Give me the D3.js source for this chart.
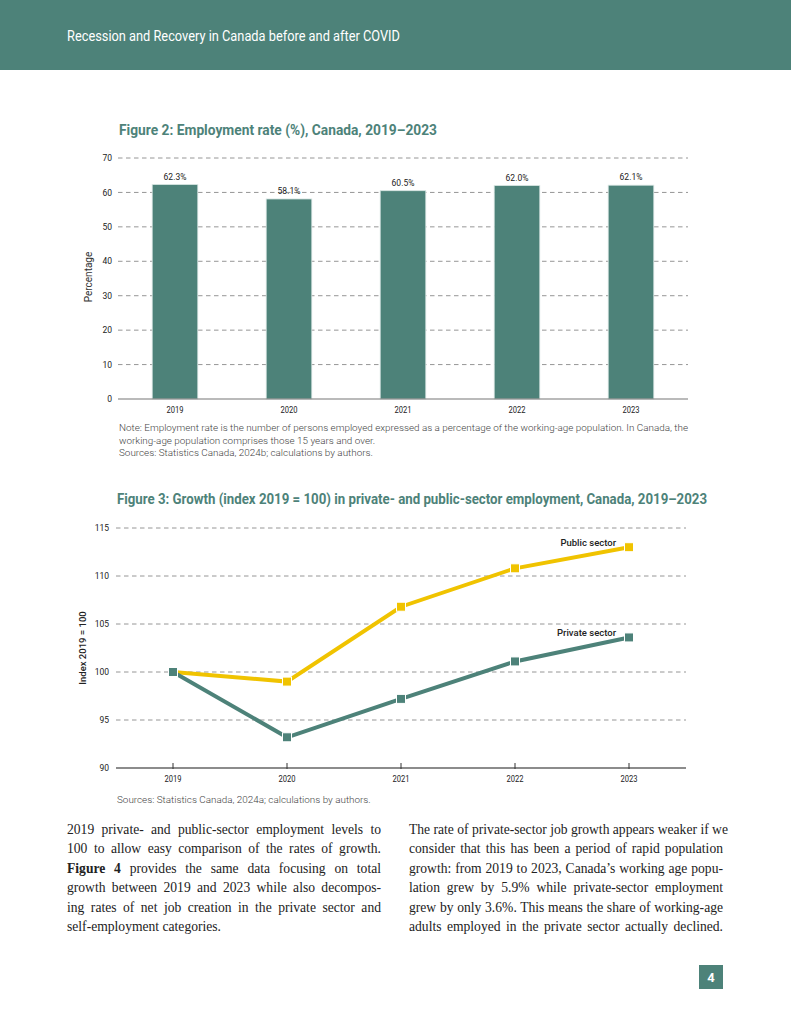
<!DOCTYPE html>
<html>
<head>
<meta charset="utf-8">
<script src="https://cdn.jsdelivr.net/npm/d3@7"></script>
<style>
  html, body { margin: 0; padding: 0; background: #fff; }
  body { width: 791px; height: 1024px; position: relative; overflow: hidden; }
  svg { position: absolute; left: 0; top: 0; }
  .line { position: absolute; font-family: "Liberation Serif", serif; font-size: 13.6px; color: #222;
          white-space: nowrap; text-align: justify; text-align-last: justify; line-height: 19px; }
  .line.last { text-align-last: left; }
</style>
</head>
<body>
<svg id="page" width="791" height="1024"></svg>
<div id="body"></div>
<script>
// ---------- data ----------
const years = ["2019", "2020", "2021", "2022", "2023"];
const employmentRate = [62.3, 58.1, 60.5, 62.0, 62.1];
const rateLabels = ["62.3%", "58.1%", "60.5%", "62.0%", "62.1%"];
const rateTicks = [0, 10, 20, 30, 40, 50, 60, 70];
const publicSector = [100, 99.0, 106.8, 110.8, 113.0];
const privateSector = [100, 93.2, 97.2, 101.1, 103.6];
const indexTicks = [90, 95, 100, 105, 110, 115];

const teal = "#4d8279";
const yellow = "#f0c300";
const svg = d3.select("#page");

// ---------- header ----------
svg.append("rect").attr("x", 0).attr("y", 0).attr("width", 791).attr("height", 70).attr("fill", teal);
svg.append("text").attr("x", 67).attr("y", 41).attr("fill", "#fff")
  .attr("font-family", "Roboto").attr("font-size", 14)
  .attr("textLength", 333).attr("lengthAdjust", "spacingAndGlyphs")
  .text("Recession and Recovery in Canada before and after COVID");

// ---------- Figure 2 ----------
svg.append("text").attr("x", 119).attr("y", 135).attr("fill", teal)
  .attr("font-family", "Roboto").attr("font-weight", 700).attr("font-size", 15)
  .attr("textLength", 318).attr("lengthAdjust", "spacingAndGlyphs")
  .text("Figure 2: Employment rate (%), Canada, 2019\u20132023");

const x1 = d3.scaleBand().domain(years).range([118, 688]).paddingInner(0.6).paddingOuter(0.3);
const y1 = d3.scaleLinear().domain([0, 70]).range([399, 158]);

const g1 = svg.append("g");
g1.selectAll("line.grid").data(rateTicks.filter(d => d > 0)).join("line")
  .attr("x1", 118).attr("x2", 688).attr("y1", d => y1(d)).attr("y2", d => y1(d))
  .attr("stroke", "#8a8a8a").attr("stroke-width", 0.9).attr("stroke-dasharray", "4.5,3.5");
g1.selectAll("text.ytick").data(rateTicks).join("text")
  .attr("x", 112).attr("y", d => y1(d) + 3.2).attr("text-anchor", "end")
  .attr("font-family", "Roboto").attr("font-size", 8.5).attr("fill", "#222")
  .text(d => d);
g1.selectAll("rect.bar").data(years).join("rect")
  .attr("x", d => x1(d)).attr("width", x1.bandwidth())
  .attr("y", (d, i) => y1(employmentRate[i])).attr("height", (d, i) => y1(0) - y1(employmentRate[i]))
  .attr("fill", teal).attr("stroke", "#d9e6e3").attr("stroke-width", 0.8);
g1.selectAll("text.val").data(years).join("text")
  .attr("x", d => x1(d) + x1.bandwidth() / 2).attr("y", (d, i) => y1(employmentRate[i]) - 5)
  .attr("text-anchor", "middle").attr("font-family", "Roboto").attr("font-size", 8.5).attr("fill", "#222")
  .text((d, i) => rateLabels[i]);
g1.append("line").attr("x1", 118).attr("x2", 688).attr("y1", y1(0)).attr("y2", y1(0))
  .attr("stroke", "#777").attr("stroke-width", 1.2);
g1.selectAll("text.xtick").data(years).join("text")
  .attr("x", d => x1(d) + x1.bandwidth() / 2).attr("y", 413)
  .attr("text-anchor", "middle").attr("font-family", "Roboto").attr("font-size", 8.5).attr("fill", "#222")
  .attr("textLength", 17).attr("lengthAdjust", "spacingAndGlyphs")
  .text(d => d);
svg.append("text").attr("transform", "translate(92,277) rotate(-90)")
  .attr("text-anchor", "middle").attr("font-family", "Roboto").attr("font-size", 10).attr("fill", "#333")
  .text("Percentage");

const noteLines = [
  "Note: Employment rate is the number of persons employed expressed as a percentage of the working-age population. In Canada, the",
  "working-age population comprises those 15 years and over.",
  "Sources: Statistics Canada, 2024b; calculations by authors."
];
const notes = svg.selectAll("text.note").data(noteLines).join("text")
  .attr("x", 119).attr("y", (d, i) => 431 + i * 12.6)
  .attr("font-family", "Roboto").attr("font-weight", 300).attr("font-size", 8.6).attr("fill", "#444")
  .text(d => d);
const natural0 = notes.nodes()[0].getComputedTextLength();
const squeeze = 569 / natural0;
notes.each(function () {
  const w = this.getComputedTextLength();
  d3.select(this).attr("textLength", w * squeeze).attr("lengthAdjust", "spacingAndGlyphs");
});

// ---------- Figure 3 ----------
svg.append("text").attr("x", 117).attr("y", 504).attr("fill", teal)
  .attr("font-family", "Roboto").attr("font-weight", 700).attr("font-size", 15)
  .attr("textLength", 590).attr("lengthAdjust", "spacingAndGlyphs")
  .text("Figure 3: Growth (index 2019 = 100) in private- and public-sector employment, Canada, 2019\u20132023");

const x2 = d3.scalePoint().domain(years).range([116, 686]).padding(0.5);
const y2 = d3.scaleLinear().domain([90, 115]).range([768, 528]);

const g2 = svg.append("g");
g2.selectAll("line.grid").data(indexTicks.filter(d => d > 90)).join("line")
  .attr("x1", 116).attr("x2", 686).attr("y1", d => y2(d)).attr("y2", d => y2(d))
  .attr("stroke", "#8a8a8a").attr("stroke-width", 0.9).attr("stroke-dasharray", "4.5,3.5");
g2.selectAll("text.ytick").data(indexTicks).join("text")
  .attr("x", 109).attr("y", d => y2(d) + 3.2).attr("text-anchor", "end")
  .attr("font-family", "Roboto").attr("font-size", 8.5).attr("fill", "#222")
  .text(d => d);
g2.append("line").attr("x1", 116).attr("x2", 686).attr("y1", y2(90)).attr("y2", y2(90))
  .attr("stroke", "#666").attr("stroke-width", 1.4);
g2.selectAll("line.tick").data(years).join("line")
  .attr("x1", d => x2(d)).attr("x2", d => x2(d)).attr("y1", y2(90) - 5).attr("y2", y2(90) + 1)
  .attr("stroke", "#333").attr("stroke-width", 1);
g2.selectAll("text.xtick").data(years).join("text")
  .attr("x", d => x2(d)).attr("y", 782)
  .attr("text-anchor", "middle").attr("font-family", "Roboto").attr("font-size", 8.5).attr("fill", "#222")
  .attr("textLength", 17).attr("lengthAdjust", "spacingAndGlyphs")
  .text(d => d);

const series = [
  { name: "Public sector", values: publicSector, color: yellow },
  { name: "Private sector", values: privateSector, color: teal }
];
const lineGen = d3.line().x((d, i) => x2(years[i])).y(d => y2(d));
series.forEach(s => {
  g2.append("path").datum(s.values).attr("d", lineGen)
    .attr("fill", "none").attr("stroke", s.color).attr("stroke-width", 4).attr("stroke-linejoin", "miter");
  g2.selectAll(null).data(s.values).join("rect")
    .attr("x", (d, i) => x2(years[i]) - 4.5).attr("y", d => y2(d) - 4.5)
    .attr("width", 9).attr("height", 9)
    .attr("fill", s.color).attr("stroke", "#fff").attr("stroke-width", 1);
  const last = s.values[s.values.length - 1];
  g2.append("text").attr("x", x2("2023") - 13).attr("y", y2(last) - 1.5)
    .attr("text-anchor", "end").attr("font-family", "Roboto").attr("font-weight", 500)
    .attr("font-size", 9.5).attr("fill", "#222").text(s.name);
});
svg.append("text").attr("transform", "translate(86,648) rotate(-90)")
  .attr("text-anchor", "middle").attr("font-family", "Roboto").attr("font-weight", 500)
  .attr("font-size", 9.5).attr("fill", "#222").text("Index 2019 = 100");
const src2 = svg.append("text").attr("x", 117).attr("y", 803)
  .attr("font-family", "Roboto").attr("font-weight", 300).attr("font-size", 8.6).attr("fill", "#444")
  .text("Sources: Statistics Canada, 2024a; calculations by authors.");
src2.attr("textLength", src2.node().getComputedTextLength() * squeeze).attr("lengthAdjust", "spacingAndGlyphs");

// ---------- body text ----------
const leftLines = [
  "2019 private- and public-sector employment levels to",
  "100 to allow easy comparison of the rates of growth.",
  "<b>Figure 4</b> provides the same data focusing on total",
  "growth between 2019 and 2023 while also decompos-",
  "ing rates of net job creation in the private sector and",
  "self-employment categories."
];
const rightLines = [
  "The rate of private-sector job growth appears weaker if we",
  "consider that this has been a period of rapid population",
  "growth: from 2019 to 2023, Canada\u2019s working age popu-",
  "lation grew by 5.9% while private-sector employment",
  "grew by only 3.6%. This means the share of working-age",
  "adults employed in the private sector actually declined."
];
const body = d3.select("#body");
function addCol(lines, left, justifyLast) {
  lines.forEach((t, i) => {
    body.append("div").attr("class", "line" + ((i === lines.length - 1 && !justifyLast) ? " last" : ""))
      .style("left", left + "px").style("top", (820 + i * 19.4) + "px").style("width", "314px")
      .html(t);
  });
}
addCol(leftLines, 67, false);
addCol(rightLines, 409, true);

// ---------- page number ----------
svg.append("rect").attr("x", 699).attr("y", 965).attr("width", 24).attr("height", 24).attr("fill", teal);
svg.append("text").attr("x", 711).attr("y", 982).attr("text-anchor", "middle").attr("fill", "#fff")
  .attr("font-family", "Roboto").attr("font-weight", 700).attr("font-size", 13).text("4");
</script>
</body>
</html>
